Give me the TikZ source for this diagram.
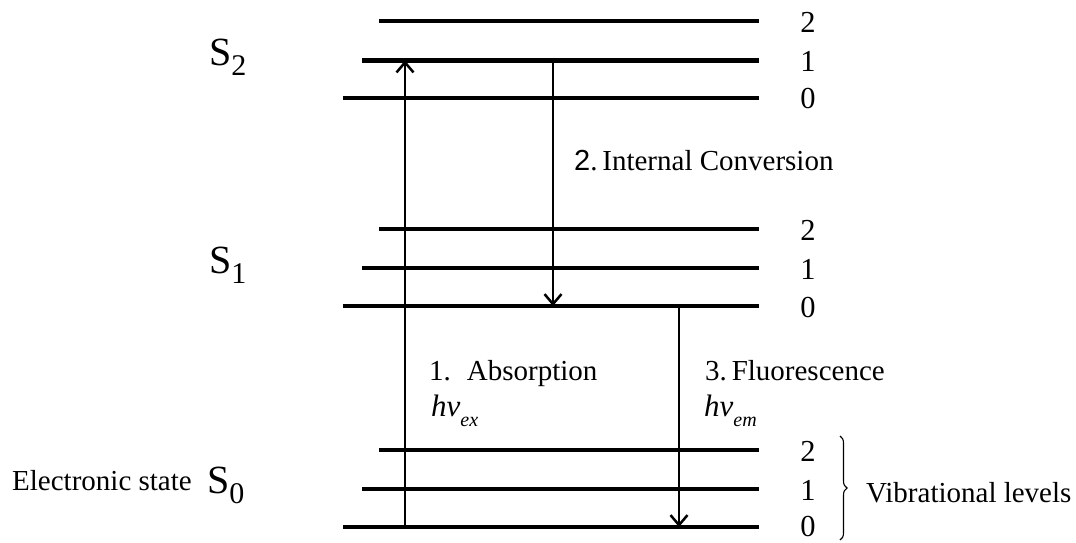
\documentclass[tikz,border=0pt]{standalone}
\usepackage{fontspec}
\setmainfont{Liberation Serif}
\newfontfamily\sansdigit{Liberation Sans}
\usetikzlibrary{arrows.meta,decorations.pathreplacing}
\tikzset{
  level/.style={line width=4.6pt},
  trans/.style={line width=2.5pt,-{Straight Barb[length=10pt,width=17pt,line width=2.5pt]}},
  txt/.style={inner sep=0pt,anchor=base west,font=\fontsize{29}{29}\selectfont},
  num/.style={inner sep=0pt,anchor=center,font=\fontsize{30.5}{30.5}\selectfont},
  stlab/.style={inner sep=0pt,anchor=base west}
}
\newcommand\statelab[1]{{\fontsize{40}{40}\selectfont S}\raisebox{-10pt}{\fontsize{30}{30}\selectfont #1}}
\newcommand\hnu[1]{{\fontsize{31}{31}\selectfont\itshape hν}\raisebox{-10pt}{\fontsize{20}{20}\selectfont\itshape #1}}
\begin{document}
\begin{tikzpicture}[x=1pt,y=-1pt]
\useasboundingbox (0,0) rectangle (1076,542);
% S2 levels
\draw[level] (379,21) -- (759,21);
\draw[level] (362,60.5) -- (759,60.5);
\draw[level] (343,98) -- (759,98);
% S1 levels
\draw[level] (379,229) -- (759,229);
\draw[level] (362,268) -- (759,268);
\draw[level] (343,306) -- (759,306);
% S0 levels
\draw[level] (379,450) -- (759,450);
\draw[level] (362,489) -- (759,489);
\draw[level] (343,527) -- (759,527);
% vibrational numbers
\node[num] (s2v2) at (808,22) {2};
\node[num] (s2v1) at (808,61) {1};
\node[num] (s2v0) at (808,99) {0};
\node[num] (s1v2) at (808,230) {2};
\node[num] (s1v1) at (808,269) {1};
\node[num] (s1v0) at (808,307) {0};
\node[num] (s0v2) at (808,451) {2};
\node[num] (s0v1) at (808,490) {1};
\node[num] (s0v0) at (808,526.5) {0};
% state labels
\node[stlab] (S2) at (209,65) {\statelab{2}};
\node[stlab] (S1) at (209,273) {\statelab{1}};
\node[stlab] (S0) at (207,493) {\statelab{0}};
\node[txt] (es) at (12,490) {Electronic state};
% transitions
\coordinate (abs0) at (405,527);
\coordinate (abs1) at (405,60.5);
\coordinate (ic0) at (553,60.5);
\coordinate (ic1) at (553,306);
\coordinate (fl0) at (679,306);
\coordinate (fl1) at (679,527);
\draw[trans] (abs0) -- (abs1);
\draw[trans] (ic0) -- (ic1);
\draw[trans] (fl0) -- (fl1);
% transition labels
\node[txt] (icl) at (574,170) {{\sansdigit 2}.\,Internal Conversion};
\node[txt] (absl) at (429,380) {1.\hspace{0.55em}Absorption};
\node[txt] (fll) at (705,380) {3.\,Fluorescence};
\node[stlab] (hex) at (431,416) {\hnu{ex}};
\node[stlab] (hem) at (704,416) {\hnu{em}};
% brace
\coordinate (br0) at (840,436);
\coordinate (br1) at (840,540);
\draw[line width=1.1pt,decorate,decoration={brace,amplitude=7pt}] (br0) -- (br1);
\node[txt] (vib) at (866,502) {Vibrational levels};
\end{tikzpicture}
\end{document}
